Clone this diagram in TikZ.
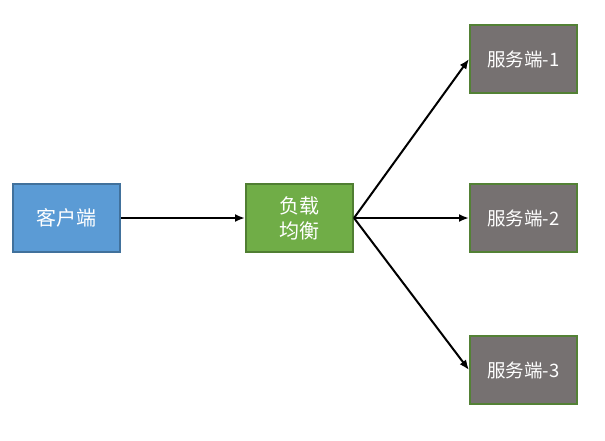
\documentclass[tikz,border=0pt]{standalone}
\usepackage{fontspec}
\newfontfamily\cjk{Noto Sans CJK SC}
\usetikzlibrary{arrows.meta}
\definecolor{cliente}{HTML}{5B9BD5}
\definecolor{clienteborde}{HTML}{41719C}
\definecolor{balanceo}{HTML}{70AD47}
\definecolor{balanceoborde}{HTML}{507E32}
\definecolor{servidor}{HTML}{767171}
\definecolor{servidorborde}{HTML}{538135}
\begin{document}
\begin{tikzpicture}[x=1pt, y=-1pt, every node/.style={rectangle, minimum width=107pt, minimum height=68pt, line width=2pt, text=white, font=\cjk\fontsize{20}{25}\selectfont, align=center},
  servidorcaja/.style={fill=servidor, draw=servidorborde, font=\cjk\fontsize{18.5}{24}\selectfont},
  flecha/.style={-{Latex[length=10pt,width=8pt]}, line width=2pt}]
  \useasboundingbox (0,0) rectangle (605,440);

  % Cliente
  \node[fill=cliente, draw=clienteborde] (c) at (66.5,218) {客户端};

  % Balanceo de carga
  \node[fill=balanceo, draw=balanceoborde] (lb) at (299.5,218) {负载\\均衡};

  % Servidores
  \node[servidorcaja] (s1) at (523.5,59) {服务端-1};
  \node[servidorcaja] (s2) at (523.5,218) {服务端-2};
  \node[servidorcaja] (s3) at (523.5,370) {服务端-3};

  % Aristas
  \draw[flecha] (c) -- (lb);
  \draw[flecha] (lb.east) -- (s1.west);
  \draw[flecha] (lb.east) -- (s2.west);
  \draw[flecha] (lb.east) -- (s3.west);
\end{tikzpicture}
\end{document}
